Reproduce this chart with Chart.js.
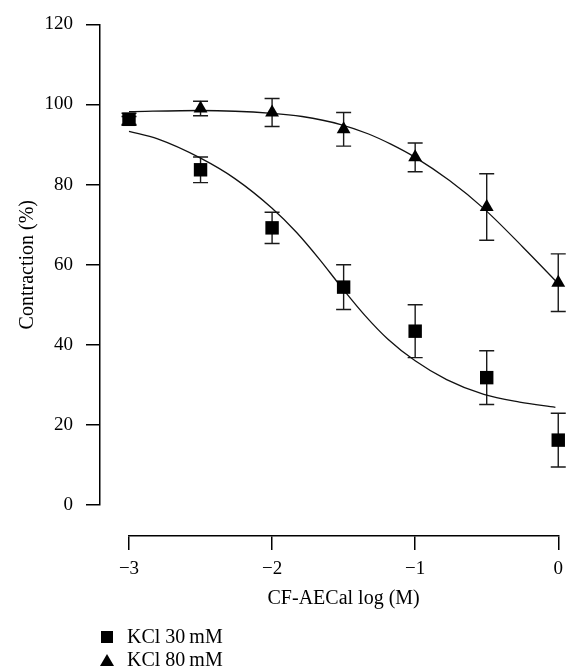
<!DOCTYPE html>
<html><head><meta charset="utf-8">
<script src="https://cdn.jsdelivr.net/npm/chart.js@4.4.1/dist/chart.umd.min.js"></script>
<style>
html,body{margin:0;padding:0;background:#fff;}
#wrap{position:relative;width:571px;height:672px;}
#legend{position:absolute;left:100px;top:625px;font-family:'Liberation Serif',serif;font-size:20px;color:#000;line-height:23px;}
.item{display:flex;align-items:center;height:23px;}
.mk{width:13px;margin-right:14px;display:flex;justify-content:center;align-items:center;}
.sq{width:12px;height:12px;background:#000;}
.tri{width:0;height:0;border-left:7px solid transparent;border-right:7px solid transparent;border-bottom:12px solid #000;}
</style></head>
<body><div id="wrap"><canvas id="c" width="571" height="672"></canvas><div id="legend"></div></div>
<script>
// ---- data ----
const seriesNames = ['KCl 30\u2009mM', 'KCl 80\u2009mM'];
const xValues = [-3, -2.5, -2, -1.5, -1, -0.5, 0];
const kcl30 = [96.3, 83.7, 69.2, 54.4, 43.4, 31.8, 16.2];
const kcl30Err = [1.5, 3.2, 3.9, 5.6, 6.6, 6.7, 6.7];
const kcl80 = [96.0, 99.0, 98.0, 93.8, 86.8, 74.4, 55.5];
const kcl80Err = [1.0, 1.8, 3.5, 4.2, 3.6, 8.3, 7.2];
const fit30X = [-3, -2.8, -2.5, -2.26, -2, -1.83, -1.67, -1.52, -1.35, -1.19, -1, -0.78, -0.52, -0.27, -0.02];
const fit30Y = [93.3, 91.4, 86.6, 81.5, 74.1, 68.1, 61.4, 54.6, 47.3, 41.4, 36.0, 31.3, 27.6, 25.7, 24.4];
const fit80X = [-3, -2.5, -2, -1.79, -1.52, -1.33, -1.17, -1, -0.76, -0.52, -0.25, 0];
const fit80Y = [98.2, 98.5, 97.8, 97.0, 95.0, 92.7, 90.1, 86.8, 81.0, 74.0, 64.5, 55.3];
const xTickLabels = ['\u22123', '\u22122', '\u22121', '0'];
const yTickLabels = ['0', '20', '40', '60', '80', '100', '120'];
const xTitle = 'CF-AECal log (M)';
const yTitle = 'Contraction (%)';

const FAMILY = "'Liberation Serif', 'Times New Roman', serif";

const errorBarPlugin = {
  id: 'errorBarPlugin',
  beforeDatasetsDraw(chart) {
    const ctx = chart.ctx, xs = chart.scales.x, ys = chart.scales.y;
    ctx.save();
    ctx.strokeStyle = '#1a1a1a';
    ctx.lineWidth = 1.4;
    chart.data.datasets.forEach(ds => {
      const errs = ds.errorValues;
      if (!errs) return;
      ds.data.forEach((p, j) => {
        const e = errs[j];
        if (!e) return;
        const px = xs.getPixelForValue(p.x);
        const top = ys.getPixelForValue(p.y + e);
        const bot = ys.getPixelForValue(p.y - e);
        ctx.beginPath();
        ctx.moveTo(px, top); ctx.lineTo(px, bot);
        ctx.moveTo(px - 7.5, top); ctx.lineTo(px + 7.5, top);
        ctx.moveTo(px - 7.5, bot); ctx.lineTo(px + 7.5, bot);
        ctx.stroke();
      });
    });
    ctx.restore();
  }
};

const toPts = (xs, ys) => xs.map((x, i) => ({x: x, y: ys[i]}));

const chart = new Chart(document.getElementById('c'), {
  type: 'scatter',
  data: {
    datasets: [
      { label: seriesNames[0], data: toPts(xValues, kcl30), errorValues: kcl30Err,
        pointStyle: 'rect', pointRadius: 9.5, pointHoverRadius: 9.5,
        backgroundColor: '#000', borderColor: '#000', borderWidth: 0, showLine: false, clip: false },
      { label: seriesNames[1], data: toPts(xValues, kcl80), errorValues: kcl80Err,
        pointStyle: 'triangle', pointRadius: 8, pointHoverRadius: 8,
        backgroundColor: '#000', borderColor: '#000', borderWidth: 0, showLine: false, clip: false },
      { label: 'fit 30', type: 'line', data: toPts(fit30X, fit30Y), showLine: true, pointRadius: 0,
        borderColor: '#111', borderWidth: 1.3, cubicInterpolationMode: 'monotone', fill: false, clip: false },
      { label: 'fit 80', type: 'line', data: toPts(fit80X, fit80Y), showLine: true, pointRadius: 0,
        borderColor: '#111', borderWidth: 1.3, cubicInterpolationMode: 'monotone', fill: false, clip: false }
    ]
  },
  options: {
    responsive: false,
    animation: false,
    devicePixelRatio: 1,
    layout: { padding: { left: 16, top: 19, right: 10, bottom: 61 } },
    plugins: { legend: { display: false }, tooltip: { enabled: false } },
    scales: {
      x: {
        type: 'linear', position: 'bottom', weight: 1, min: -3, max: 0,
        ticks: { stepSize: 1, padding: 8, color: '#000', font: { family: FAMILY, size: 19 },
                 callback: (v, i) => xTickLabels[i] },
        grid: { drawOnChartArea: false, drawTicks: true, tickLength: 14, color: '#000', lineWidth: 1.5 },
        border: { display: true, color: '#000', width: 1.5 },
        title: { display: true, text: xTitle, color: '#000', font: { family: FAMILY, size: 20 }, padding: 0 },
        afterFit: s => { s.height = 75; }
      },
      xGap: {
        type: 'linear', position: 'bottom', weight: 0, display: true,
        ticks: { display: false }, grid: { display: false }, border: { display: false },
        afterFit: s => { s.height = 31; }
      },
      y: {
        type: 'linear', position: 'left', weight: 1, min: 0, max: 120,
        ticks: { stepSize: 20, padding: 13, color: '#000', font: { family: FAMILY, size: 19 },
                 callback: (v, i) => yTickLabels[i] },
        grid: { drawOnChartArea: false, drawTicks: true, tickLength: 14, color: '#000', lineWidth: 1.5 },
        border: { display: true, color: '#000', width: 1.5 },
        title: { display: true, text: yTitle, color: '#000', font: { family: FAMILY, size: 20 }, padding: 0 },
        afterFit: s => { s.width = 84; }
      },
      yGap: {
        type: 'linear', position: 'left', weight: 0, display: true,
        ticks: { display: false }, grid: { display: false }, border: { display: false },
        afterFit: s => { s.width = 29; }
      }
    }
  },
  plugins: [errorBarPlugin]
});

// HTML legend built from the chart's own datasets
const legendEl = document.getElementById('legend');
chart.data.datasets.slice(0, 2).forEach(ds => {
  const item = document.createElement('div');
  item.className = 'item';
  const mk = document.createElement('span');
  mk.className = 'mk';
  const shape = document.createElement('span');
  shape.className = ds.pointStyle === 'rect' ? 'sq' : 'tri';
  mk.appendChild(shape);
  const txt = document.createElement('span');
  txt.textContent = ds.label;
  item.appendChild(mk);
  item.appendChild(txt);
  legendEl.appendChild(item);
});
</script>
</body></html>
